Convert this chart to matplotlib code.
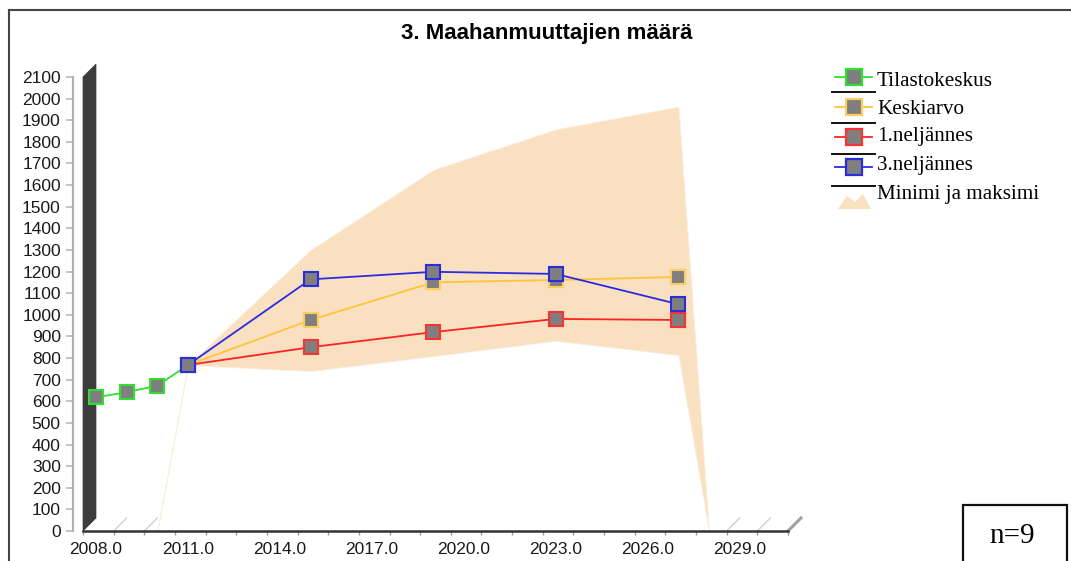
import matplotlib
matplotlib.use('Agg')
import matplotlib.pyplot as plt
from matplotlib.ticker import MultipleLocator, FormatStrFormatter
from matplotlib.transforms import offset_copy, ScaledTranslation
from matplotlib.lines import Line2D
from matplotlib.patches import Polygon, Rectangle

# data
vuodet_tk = [2008, 2009, 2010, 2011]
tilastokeskus = [618, 642, 672, 768]
vuodet_ennuste = [2011, 2015, 2019, 2023, 2027]
keskiarvo = [768, 976, 1150, 1161, 1175]
neljannes1 = [768, 850, 920, 981, 976]
neljannes3 = [768, 1164, 1199, 1189, 1049]
vuodet_alue = [2010, 2011, 2015, 2019, 2023, 2027, 2028]
maksimi = [0, 768, 1300, 1670, 1858, 1963, 0]
minimi = [0, 768, 740, 809, 880, 814, 0]
x_tikit = [2008, 2011, 2014, 2017, 2020, 2023, 2026, 2029]

W, H = 1071, 561
fig = plt.figure(figsize=(W / 100, H / 100), dpi=100)

def fx(x):
    return x / W

def fy(y):
    return 1 - y / H

ax = fig.add_axes([fx(83), fy(531), fx(788) - fx(83), fy(77) - fy(531)])
ax.set_xlim(2008, 2031)
ax.set_ylim(0, 2100)

# 3D depth of the chart (pixels)
depth = 13
dx = 23 * depth / 705
dy = 2100 * depth / 454
back = offset_copy(ax.transData, fig=fig, x=depth, y=0, units='dots')

# wall on the left
ax.add_patch(Polygon([(2008, 0), (2008, 2100), (2008 + dx, 2100 + dy), (2008 + dx, dy)],
                     closed=True, facecolor='#3c3c3c', edgecolor='#3c3c3c', lw=0.5,
                     clip_on=False, zorder=1))

# floor lines
for v in [2009, 2010, 2029, 2030]:
    ax.plot([v, v + dx], [0, dy], color='#d0d0d0', lw=1, clip_on=False, zorder=1)
ax.plot([2031, 2031 + dx], [0, dy], color='#a0a0a0', lw=2.2, clip_on=False, zorder=1)

# min-max band
ax.fill_between(vuodet_alue, minimi, maksimi, transform=back, facecolor='#f8e0c0',
                edgecolor='#fbeedd', lw=0.6, zorder=2, clip_on=False)

ms = 9.4
sarjat = [
    (vuodet_tk, tilastokeskus, '#2fe02f', '#2fe02f', 'Tilastokeskus'),
    (vuodet_ennuste, keskiarvo, '#ffc43a', '#ffcc60', 'Keskiarvo'),
    (vuodet_ennuste, neljannes1, '#ff2222', '#ff3030', '1.neljännes'),
    (vuodet_ennuste, neljannes3, '#2b2be0', '#2b2be0', '3.neljännes'),
]
for i, (xs, ys, c, ec, nimi) in enumerate(sarjat):
    ax.plot(xs, ys, color=c, lw=1.3, marker='s', ms=ms, mfc='#7f7f7f', mec=ec,
            mew=1.5, transform=back, clip_on=False, zorder=3 + i)

# axes styling
for s in ['top', 'right']:
    ax.spines[s].set_visible(False)
ax.spines['left'].set_position(('outward', 7))
ax.spines['left'].set_color('#b0b0b0')
ax.spines['left'].set_linewidth(1.6)
ax.spines['bottom'].set_color('#333333')
ax.spines['bottom'].set_linewidth(1.8)
ax.spines['bottom'].set_zorder(10)

ax.yaxis.set_major_locator(MultipleLocator(100))
ax.yaxis.set_major_formatter(FormatStrFormatter('%d'))
ax.set_xticks(x_tikit)
ax.xaxis.set_minor_locator(MultipleLocator(1))
ax.xaxis.set_major_formatter(FormatStrFormatter('%.1f'))
ax.tick_params(axis='y', direction='out', length=5, width=1.2, color='#b8b8b8',
               labelsize=12.5, labelcolor='#1a1a1a', pad=4)
ax.tick_params(axis='x', which='both', direction='out', length=3, width=1,
               color='#999999', labelsize=12.5, labelcolor='#1a1a1a', pad=5)
for lbl in ax.get_xticklabels() + ax.get_yticklabels():
    lbl.set_fontfamily(['Liberation Sans', 'DejaVu Sans'])
for t in ax.xaxis.get_major_ticks():
    t.label1.set_transform(t.label1.get_transform() +
                           ScaledTranslation(depth / 100, 0, fig.dpi_scale_trans))

# title
fig.text(fx(547), fy(33), '3. Maahanmuuttajien määrä', ha='center', va='center',
         fontsize=16, fontweight='bold', family=['Liberation Sans', 'DejaVu Sans'])

# frame
fig.add_artist(Line2D([fx(9), fx(9)], [fy(10), 0], color='#444444', lw=1.5))
fig.add_artist(Line2D([fx(9), 1], [fy(10), fy(10)], color='#444444', lw=1.5))

# legend drawn by hand
serif = ['Liberation Serif', 'DejaVu Serif']
rivit_m = [77, 107, 137, 167]
rivit_t = [81, 109, 137, 165]
for (xs, ys, c, ec, nimi), ym, yt in zip(sarjat, rivit_m, rivit_t):
    fig.add_artist(Line2D([fx(835), fx(872)], [fy(ym), fy(ym)], color=c, lw=1.3))
    fig.add_artist(Line2D([fx(854)], [fy(ym)], marker='s', ms=11.5, mfc='#7f7f7f',
                          mec=ec, mew=1.6, color=c))
    fig.text(fx(877), fy(yt), nimi, ha='left', va='center', fontsize=15.2, family=serif)
for ys in [92, 123, 154, 186]:
    fig.add_artist(Line2D([fx(832), fx(875)], [fy(ys), fy(ys)], color='#111111', lw=1.4))
fig.add_artist(Polygon([(fx(838), fy(209)), (fx(847), fy(196)), (fx(855), fy(202)),
                        (fx(863), fy(194)), (fx(871), fy(209))],
                       closed=True, facecolor='#f8e0c0', edgecolor='none',
                       transform=fig.transFigure))
fig.text(fx(877), fy(194), 'Minimi ja maksimi', ha='left', va='center', fontsize=15.2,
         family=serif)

# n box
fig.add_artist(Rectangle((fx(963), fy(575)), fx(1067) - fx(963), fy(505) - fy(575),
                         facecolor='none', edgecolor='#111111', lw=1.6,
                         transform=fig.transFigure))
fig.text(fx(1012), fy(536), 'n=9', ha='center', va='center', fontsize=21, family=serif)

fig.savefig('out.png', dpi=100)
